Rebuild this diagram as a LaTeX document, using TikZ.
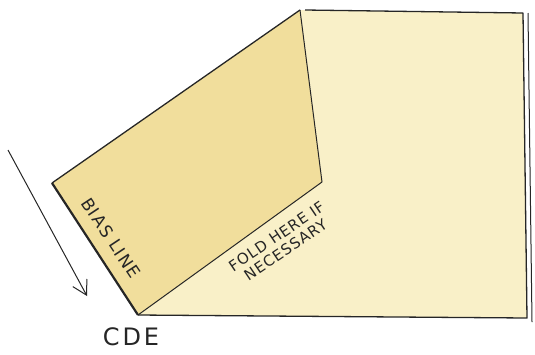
\documentclass[tikz,border=0pt]{standalone}
\usepackage{fontspec}
\setmainfont{DejaVu Sans}
\usetikzlibrary{arrows.meta}
\definecolor{paperA}{HTML}{F1DE9C}
\definecolor{paperB}{HTML}{F9F0C8}
\tikzset{
  edge/.style={draw=black!85, line width=1.3pt, line join=round},
  hand/.style={text=black!85, align=center, inner sep=0pt},
}
\begin{document}
\begin{tikzpicture}[x=1pt,y=-1pt]
\useasboundingbox (0,0) rectangle (535,354);
\coordinate (A) at (52,183);
\coordinate (T) at (300,10);
\coordinate (F) at (322,182);
\coordinate (B) at (138,315);
\coordinate (TR) at (523,13);
\coordinate (BR) at (527,318);
\coordinate (AS) at (8,150);
\coordinate (AE) at (87,296);
% panels
\fill[paperB] (T) -- (TR) -- (BR) -- (B) -- (F) -- cycle;
\fill[paperA] (A) -- (T) -- (F) -- (B) -- cycle;
% edges
\draw[edge] (A) -- (T);
\draw[edge, line width=1pt] (T) -- (F) -- (B);
\draw[edge] (T) ++(5,0) -- (TR) -- (BR) -- (B);
\draw[edge, line width=2.2pt] (A) -- (B);
\draw[edge, line width=1pt] ([xshift=5pt]TR) -- ([xshift=5pt,yshift=-4pt]BR);
% arrow
\draw[edge, line width=1pt, -{Straight Barb[length=14pt,width=16pt]}] (AS) -- (AE);
% labels
\node[hand, rotate=-56.5, font=\fontsize{17}{18}\selectfont\addfontfeature{LetterSpace=8}] (bias) at (111,238) {BIAS LINE};
\node[hand, rotate=34, font=\fontsize{15}{16}\selectfont\addfontfeature{LetterSpace=6}] (fold) at (281,243) {FOLD HERE IF\\NECESSARY};
\node[hand, font=\fontsize{24}{26}\selectfont\addfontfeature{LetterSpace=12}] (cde) at (131,337) {CDE};
\end{tikzpicture}
\end{document}
